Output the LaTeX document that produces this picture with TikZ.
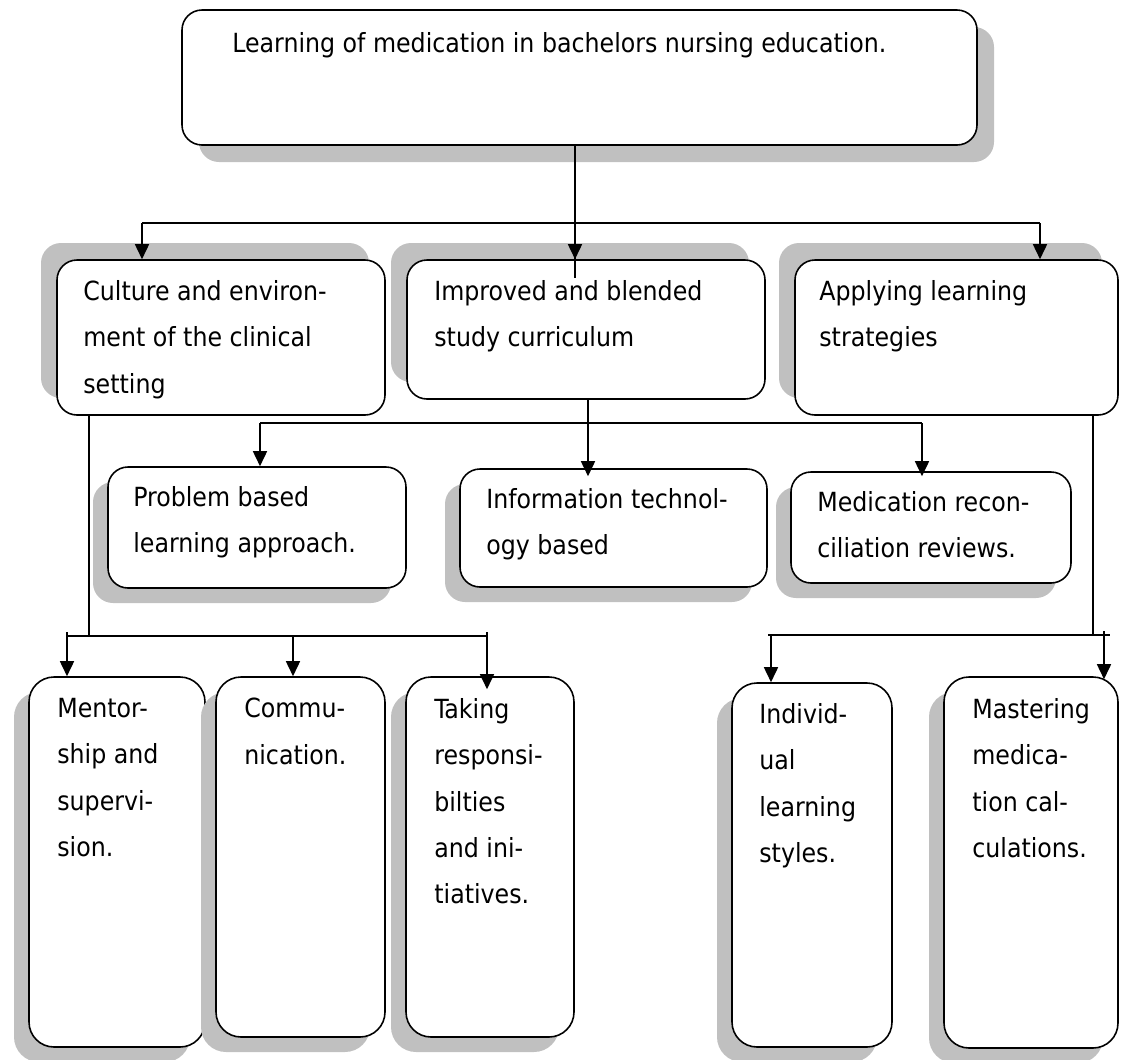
\documentclass[tikz,border=0pt]{standalone}
\usepackage{fontspec}
\setmainfont{DejaVu Sans Condensed}
\usetikzlibrary{arrows.meta,shadows,fit}
\definecolor{shadowgray}{RGB}{192,192,192}

\begin{document}
\begin{tikzpicture}[x=0.02cm,y=-0.02cm]
\tikzstyle{box}=[draw,line width=0.9pt,rounded corners=0.4cm,fill=white,inner sep=0pt];
\tikzstyle{tallbox}=[box,rounded corners=0.5cm];
\tikzstyle{shdr}=[drop shadow={shadow xshift=0.34cm,shadow yshift=-0.34cm,fill=shadowgray,opacity=1}];
\tikzstyle{shul}=[drop shadow={shadow xshift=-0.32cm,shadow yshift=0.34cm,fill=shadowgray,opacity=1}];
\tikzstyle{shdl}=[drop shadow={shadow xshift=-0.3cm,shadow yshift=-0.3cm,fill=shadowgray,opacity=1}];
\tikzstyle{txt}=[anchor=north west,inner sep=0pt,align=left,font=\fontsize{15}{26.4}\selectfont];
\tikzstyle{link}=[line width=0.9pt];
\tikzstyle{arr}=[link,-{Triangle[length=0.3cm,width=0.28cm]}];

\useasboundingbox (0,0) rectangle (1132,1059);

\node [box,shdr,fit={(182,10) (977,145)}] (top) {};
\node [txt] (toptxt) at (232,32) {Learning of medication in bachelors nursing education.};

\node [box,shul,fit={(57,260) (385,415)}] (culture) {};
\node [box,shul,fit={(407,260) (765,399)}] (study) {};
\node [box,shul,fit={(795,260) (1118,415)}] (strat) {};
\node [txt] (culturetxt) at (83,280) {Culture and environ-\\ment of the clinical\\setting};
\node [txt] (studytxt) at (434,280) {Improved and blended\\study curriculum};
\node [txt] (strattxt) at (819,280) {Applying learning\\strategies};

\node [box,shdl,fit={(108,467) (406,588)}] (pbl) {};
\node [box,shdl,fit={(460,469) (767,587)}] (info) {};
\node [box,shdl,fit={(791,472) (1071,583)}] (recon) {};
\node [txt] (pbltxt) at (133,486) {Problem based\\learning approach.};
\node [txt] (infotxt) at (486,488) {Information technol-\\ogy based};
\node [txt] (recontxt) at (817,491) {Medication recon-\\ciliation reviews.};

\node [tallbox,shdl,fit={(29,677) (205,1047)}] (mentor) {};
\node [tallbox,shdl,fit={(216,677) (385,1037)}] (commu) {};
\node [tallbox,shdl,fit={(406,677) (574,1037)}] (resp) {};
\node [tallbox,shdl,fit={(732,683) (892,1047)}] (styles) {};
\node [tallbox,shdl,fit={(944,677) (1118,1048)}] (calc) {};
\node [txt] (mentortxt) at (57,698) {Mentor-\\ship and\\supervi-\\sion.};
\node [txt] (commutxt) at (244,698) {Commu-\\nication.};
\node [txt] (resptxt) at (434,698) {Taking\\responsi-\\bilties\\and ini-\\tiatives.};
\node [txt] (stylestxt) at (759,703) {Individ-\\ual\\learning\\styles.};
\node [txt] (calctxt) at (972,698) {Mastering\\medica-\\tion cal-\\culations.};

% top level
\coordinate (hl) at (142,223);
\coordinate (hm) at (575,223);
\coordinate (hr) at (1040,223);
\coordinate (hend) at (575,278);
\draw [link] (top.south -| hm) -- (hend);
\draw [link] (hl) -- (hr);
\draw [arr] (hl) -- (hl |- culture.north);
\draw [arr] (hm) -- (hm |- study.north);
\draw [arr] (hr) -- (hr |- strat.north);

% curriculum
\coordinate (ml) at (260,423);
\coordinate (mm) at (588,423);
\coordinate (mr) at (922,423);
\draw [link] (study.south -| mm) -- (mm);
\draw [link] (ml) -- (mr);
\draw [arr] (ml) -- (ml |- pbl.north);
\draw [arr] (mm) -- ([yshift=-0.16cm]info.north -| mm);
\draw [arr] (mr) -- ([yshift=-0.1cm]recon.north -| mr);

% clinical setting
\coordinate (lj) at (89,636);
\coordinate (ll) at (67,636);
\coordinate (lm) at (293,636);
\coordinate (lr) at (487,636);
\draw [link] (culture.south -| lj) -- (lj);
\draw [link] (ll) -- (lr);
\draw [arr] ([yshift=0.08cm]ll) -- (ll |- mentor.north);
\draw [arr] (lm) -- (lm |- commu.north);
\draw [arr] ([yshift=0.08cm]lr) -- ([yshift=-0.26cm]resp.north -| lr);

% strategies
\coordinate (rj) at (1093,635);
\coordinate (rl) at (771,635);
\coordinate (rr) at (1104,635);
\draw [link] (strat.south -| rj) -- (rj);
\draw [link] ([xshift=-0.06cm]rl) -- ([xshift=0.12cm]rr);
\draw [arr] (rl) -- (rl |- styles.north);
\draw [arr] ([yshift=0.08cm]rr) -- ([yshift=-0.06cm]calc.north -| rr);
\end{tikzpicture}
\end{document}
